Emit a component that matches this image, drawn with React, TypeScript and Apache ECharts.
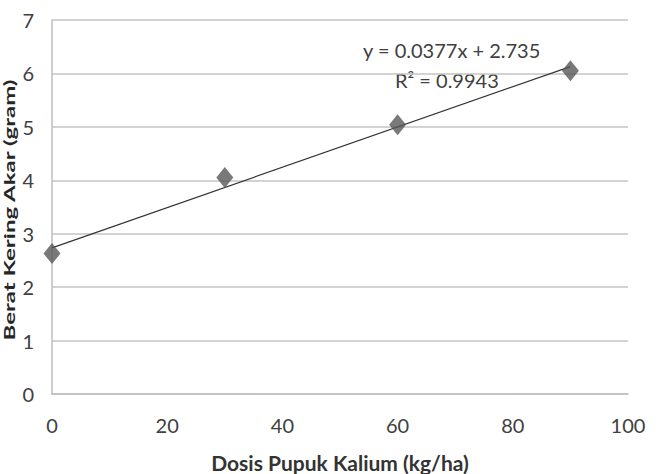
import React, { useEffect, useRef } from "react";
import * as echarts from "echarts";

const doses = [0, 30, 60, 90];
const rootWeight = [2.63, 4.05, 5.04, 6.05];
const trendX = [0, 90];
const trendY = [2.735, 6.128];
const equationText = "y = 0.0377x + 2.735";
const r2Text = "R² = 0.9943";
const xTitle = "Dosis Pupuk Kalium (kg/ha)";
const yTitle = "Berat Kering Akar (gram)";

const FONT = "Lato, 'Open Sans', sans-serif";

export default function App() {
  const ref = useRef<HTMLDivElement>(null);
  useEffect(() => {
    if (!ref.current) return;
    const chart = echarts.init(ref.current, undefined, { renderer: "svg" });
    chart.setOption({
      animation: false,
      backgroundColor: "#ffffff",
      grid: { left: 52, right: 43, top: 20, bottom: 80, outerBoundsMode: "none", containLabel: false },
      xAxis: {
        type: "value",
        min: 0,
        max: 100,
        interval: 20,
        axisLine: { show: true, lineStyle: { color: "#bfbfbf", width: 1.5 } },
        axisTick: { show: false },
        splitLine: { show: false },
        axisLabel: { fontFamily: FONT, fontSize: 20, color: "#404040", margin: 21 },
      },
      yAxis: {
        type: "value",
        min: 0,
        max: 7,
        interval: 1,
        axisLine: { show: true, lineStyle: { color: "#bfbfbf", width: 1.5 } },
        axisTick: { show: false },
        splitLine: { show: true, lineStyle: { color: "#c4c4c4", width: 1.5 } },
        axisLabel: { fontFamily: FONT, fontSize: 20, color: "#404040", margin: 18 },
      },
      series: [
        {
          type: "line",
          data: trendX.map((x, i) => [x, trendY[i]]),
          showSymbol: false,
          symbol: "none",
          lineStyle: { color: "#333333", width: 1.2 },
          z: 2,
        },
        {
          type: "scatter",
          data: doses.map((x, i) => [x, rootWeight[i]]),
          symbol: "diamond",
          symbolSize: [17, 21],
          itemStyle: { color: "#585858" },
          z: 3,
        },
      ],
      graphic: [
        {
          type: "text",
          left: 363,
          top: 40,
          style: { text: equationText, fontFamily: FONT, fontSize: 20, fill: "#404040" },
        },
        {
          type: "text",
          left: 395,
          top: 70,
          style: { text: r2Text, fontFamily: FONT, fontSize: 20, fill: "#404040" },
        },
        {
          type: "text",
          x: 340,
          y: 462,
          style: {
            text: xTitle,
            fontFamily: FONT,
            fontSize: 21,
            fontWeight: "bold",
            fill: "#333333",
            align: "center",
            verticalAlign: "middle",
          },
        },
        {
          type: "text",
          x: 9,
          y: 210,
          rotation: Math.PI / 2,
          scaleX: 1.5,
          style: {
            text: yTitle,
            fontFamily: FONT,
            fontSize: 16,
            fontWeight: "bold",
            fill: "#262626",
            align: "center",
            verticalAlign: "middle",
          },
        },
      ],
    });
    return () => chart.dispose();
  }, []);
  return (
    <div
      ref={ref}
      style={{ position: "fixed", left: 0, top: 0, width: 671, height: 474, background: "#fff" }}
    />
  );
}
